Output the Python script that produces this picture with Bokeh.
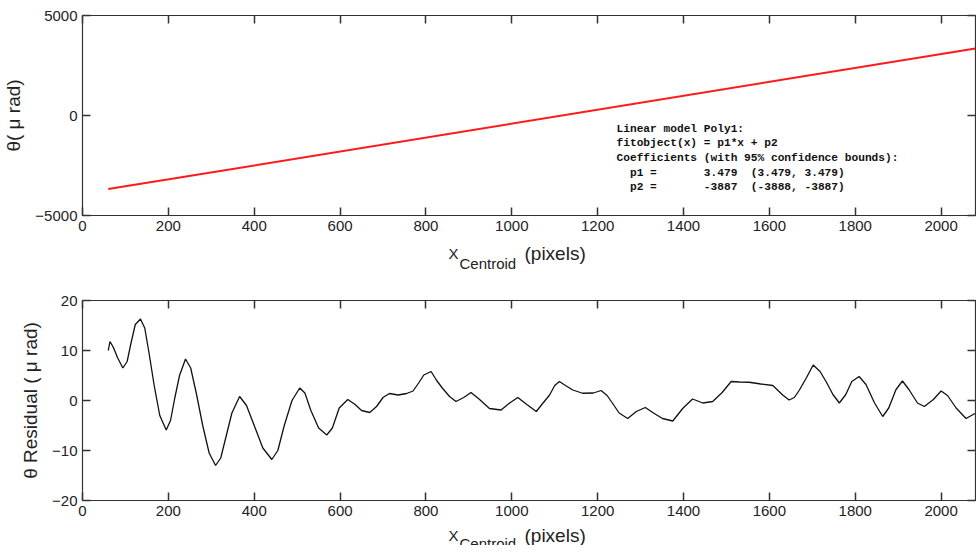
from bokeh.plotting import figure
from bokeh.models import LinearAxis, FixedTicker, Label, Range1d, CustomLabelingPolicy
from bokeh.core.properties import value
from bokeh.layouts import column
from bokeh.embed import file_html
from bokeh.resources import INLINE

# ---------------- data ----------------
fit_x = [60, 2080]
fit_y = [-3680, 3350]

res_x = [60, 64, 72, 82, 94, 104, 113, 123, 135, 145, 155, 167, 180, 195, 205, 215, 226, 240,
         252, 265, 280, 295, 310, 322, 335, 348, 366, 382, 400, 420, 441, 455, 470, 488, 506,
         518, 532, 550, 569, 582, 598, 618, 635, 650, 669, 685, 700, 715, 735, 755, 770, 783,
         795, 812, 825, 839, 855, 870, 888, 905, 925, 948, 975, 995, 1014, 1035, 1057, 1070,
         1088, 1100, 1111, 1125, 1142, 1165, 1190, 1208, 1222, 1235, 1250, 1270, 1290, 1311,
         1330, 1351, 1375, 1398, 1421, 1445, 1468, 1490, 1511, 1530, 1553, 1580, 1608, 1631,
         1646, 1658, 1670, 1686, 1702, 1718, 1732, 1748, 1763, 1778, 1792, 1809, 1825, 1845,
         1864, 1878, 1895, 1910, 1925, 1945, 1961, 1982, 2000, 2015, 2035, 2058, 2079]
res_y = [10.0, 11.8, 10.6, 8.5, 6.5, 7.8, 11.5, 15.2, 16.3, 14.5, 9.5, 3.0, -3.0, -5.9, -4.0, 0.5,
         5.0, 8.3, 6.5, 1.5, -5.0, -10.5, -13.0, -11.5, -7.0, -2.5, 0.8, -1.0, -5.0, -9.5, -11.8,
         -10.0, -5.0, 0.0, 2.5, 1.5, -2.0, -5.5, -6.9, -5.5, -1.5, 0.2, -0.8, -2.0, -2.4, -1.2,
         0.6, 1.4, 1.1, 1.4, 1.9, 3.5, 5.1, 5.8, 4.0, 2.4, 0.8, -0.2, 0.6, 1.6, 0.2, -1.6, -1.9,
         -0.5, 0.6, -0.8, -2.2, -0.8, 1.1, 3.0, 3.8, 3.0, 2.1, 1.45, 1.5, 2.0, 1.0, -0.6, -2.5,
         -3.6, -2.2, -1.4, -2.5, -3.6, -4.1, -1.6, 0.3, -0.5, -0.2, 1.6, 3.8, 3.7, 3.65, 3.3,
         3.0, 1.1, 0.1, 0.6, 2.1, 4.5, 7.1, 5.8, 3.8, 1.2, -0.5, 1.2, 3.8, 4.8, 3.2, -0.5, -3.2,
         -1.5, 2.2, 3.9, 2.2, -0.5, -1.2, 0.2, 1.9, 1.0, -1.5, -3.6, -2.6]

x_ticks = [0, 200, 400, 600, 800, 1000, 1200, 1400, 1600, 1800, 2000]
top_y_ticks = [-5000, 0, 5000]
bot_y_ticks = [-20, -10, 0, 10, 20]

fit_text = [
    "Linear model Poly1:",
    "fitobject(x) = p1*x + p2",
    "Coefficients (with 95% confidence bounds):",
    "  p1 =       3.479  (3.479, 3.479)",
    "  p2 =       -3887  (-3888, -3887)",
]

top_ylabel = "θ( μ rad)"
bot_ylabel = "θ Residual ( μ rad)"
xlabel_parts = ["X", "Centroid", "(pixels)"]

# ---------------- layout constants ----------------
FW, FH = 893, 200
PX_PER_X = 0.4293
X_END = FW / PX_PER_X
SANS = "Liberation Sans"
INK = "#222222"

hide_labels = CustomLabelingPolicy(code="for (const i of indices) { indices.unset(i) }\nreturn indices")


def style(p, yticks, ylabel):
    p.xaxis.ticker = FixedTicker(ticks=x_ticks)
    p.yaxis.ticker = FixedTicker(ticks=yticks)
    p.add_layout(LinearAxis(ticker=FixedTicker(ticks=x_ticks), major_label_policy=hide_labels), "above")
    p.add_layout(LinearAxis(ticker=FixedTicker(ticks=yticks), major_label_policy=hide_labels), "right")
    for ax in p.axis:
        ax.major_tick_in = 8
        ax.major_tick_out = 0
        ax.minor_tick_line_color = None
        ax.axis_line_color = "#333333"
        ax.major_tick_line_color = "#333333"
        ax.major_tick_line_width = 1.5
        ax.major_label_text_font = SANS
        ax.major_label_text_font_size = "15px"
        ax.major_label_text_color = INK
        ax.major_label_standoff = 5
    for ax in p.above + p.right:
        ax.major_label_standoff = 2
    p.yaxis[0].axis_label = ylabel
    p.yaxis[0].axis_label_text_font = SANS
    p.yaxis[0].axis_label_text_font_size = "19px"
    p.yaxis[0].axis_label_text_font_style = "normal"
    p.yaxis[0].axis_label_text_color = INK
    p.yaxis[0].axis_label_standoff = 8
    p.grid.visible = False
    p.outline_line_color = "#333333"
    p.outline_line_width = 1.2


def xlabel_fig(h, main_from_top, sub_from_top):
    f = figure(frame_width=FW, frame_height=h, output_backend="svg", toolbar_location=None,
               x_range=Range1d(0, X_END), y_range=Range1d(0, h),
               min_border_left=75, min_border_right=0, min_border_top=0, min_border_bottom=0)
    f.axis.visible = False
    f.grid.visible = False
    f.outline_line_color = None
    xs = [366 / PX_PER_X, 377 / PX_PER_X, 442 / PX_PER_X]
    ys = [h - main_from_top, h - sub_from_top, h - main_from_top]
    sizes = ["15px", "15px", "19px"]
    for x, y, t, s in zip(xs, ys, xlabel_parts, sizes):
        f.text(x=[x], y=[y], text=[t], text_font=value(SANS), text_font_size=s,
               text_color=INK, text_baseline="alphabetic")
    return f


# ---------------- top figure ----------------
p1 = figure(frame_width=FW, frame_height=FH, output_backend="svg", toolbar_location=None,
            x_range=Range1d(0, X_END), y_range=Range1d(-5000, 5000),
            min_border_left=75, min_border_right=0, min_border_top=10, min_border_bottom=27)
style(p1, top_y_ticks, top_ylabel)
p1.line(fit_x, fit_y, line_color="#ff1a1a", line_width=2)

line_dy = 14.7 * 10000 / FH
for i, t in enumerate(fit_text):
    p1.add_layout(Label(x=534 / PX_PER_X, y=-650 - i * line_dy, text=t.replace(" ", "\u00a0"),
                        text_font="Liberation Mono", text_font_style="bold",
                        text_font_size="11.2px", text_color="#111111", text_baseline="middle"))

lab1 = xlabel_fig(43, 11, 21)

# ---------------- bottom figure ----------------
p2 = figure(frame_width=FW, frame_height=FH, output_backend="svg", toolbar_location=None,
            x_range=Range1d(0, X_END), y_range=Range1d(-20, 20),
            min_border_left=75, min_border_right=0, min_border_top=15, min_border_bottom=22)
style(p2, bot_y_ticks, bot_ylabel)
p2.line(res_x, res_y, line_color="#111111", line_width=1.3)

lab2 = xlabel_fig(23, 13, 21)

layout = column(p1, lab1, p2, lab2, spacing=0)
open("out.html", "w").write(file_html(layout, INLINE))
